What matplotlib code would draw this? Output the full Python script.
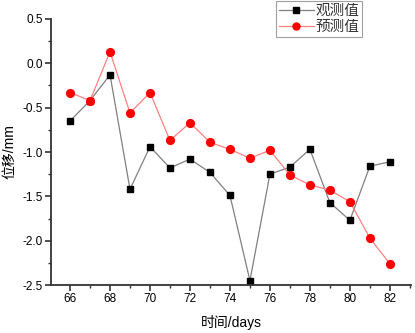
import matplotlib.pyplot as plt
from matplotlib.ticker import MultipleLocator

plt.rcParams['font.family'] = ['Liberation Sans', 'Noto Sans CJK SC', 'DejaVu Sans']

days = [66, 67, 68, 69, 70, 71, 72, 73, 74, 75, 76, 77, 78, 79, 80, 81, 82]
observed = [-0.65, -0.42, -0.13, -1.42, -0.94, -1.18, -1.08, -1.23, -1.49, -2.45,
            -1.25, -1.17, -0.97, -1.57, -1.77, -1.16, -1.11]
predicted = [-0.33, -0.42, 0.13, -0.56, -0.33, -0.87, -0.67, -0.89, -0.97, -1.07,
             -0.98, -1.26, -1.37, -1.43, -1.56, -1.97, -2.26]

fig = plt.figure(figsize=(4.15, 3.33), dpi=100)
ax = fig.add_axes([0.123, 0.144, 0.867, 0.799])

ax.plot(days, observed, color='#808080', lw=0.9, marker='s', ms=4.6,
        mfc='black', mec='black', label='观测值')
ax.plot(days, predicted, color='#ff8080', lw=0.9, marker='o', ms=5.6,
        mfc='red', mec='red', label='预测值')

ax.set_xlim(65.05, 83.05)
ax.set_ylim(-2.5, 0.5)
ax.xaxis.set_major_locator(MultipleLocator(2))
ax.xaxis.set_minor_locator(MultipleLocator(1))
ax.yaxis.set_major_locator(MultipleLocator(0.5))
ax.yaxis.set_minor_locator(MultipleLocator(0.25))

for side in ('top', 'right'):
    ax.spines[side].set_visible(False)
for side in ('left', 'bottom'):
    ax.spines[side].set_linewidth(1.3)
    ax.spines[side].set_color('#333333')

ax.tick_params(which='major', length=4, width=1.2, color='#333333', labelsize=8.5, pad=2)
ax.tick_params(which='minor', length=2.5, width=1.0, color='#333333')
ax.yaxis.set_major_formatter(plt.FuncFormatter(lambda v, p: f'{v:.1f}'))
ax.xaxis.set_major_formatter(plt.FuncFormatter(lambda v, p: f'{v:.0f}'))

ax.set_xlabel('时间/days', fontsize=10, labelpad=7)
ax.set_ylabel('位移/mm', fontsize=10, labelpad=4)

leg = ax.legend(loc='upper right', bbox_to_anchor=(0.864, 1.068), fontsize=10.5,
                frameon=True, fancybox=False, edgecolor='#888888',
                handlelength=2.4, handletextpad=0.1, borderpad=0.2,
                labelspacing=0.15, borderaxespad=0, markerscale=0.9)
leg.get_frame().set_linewidth(0.8)
for t in leg.get_texts():
    t.set_color('#333333')

fig.savefig('out.png', dpi=100)
